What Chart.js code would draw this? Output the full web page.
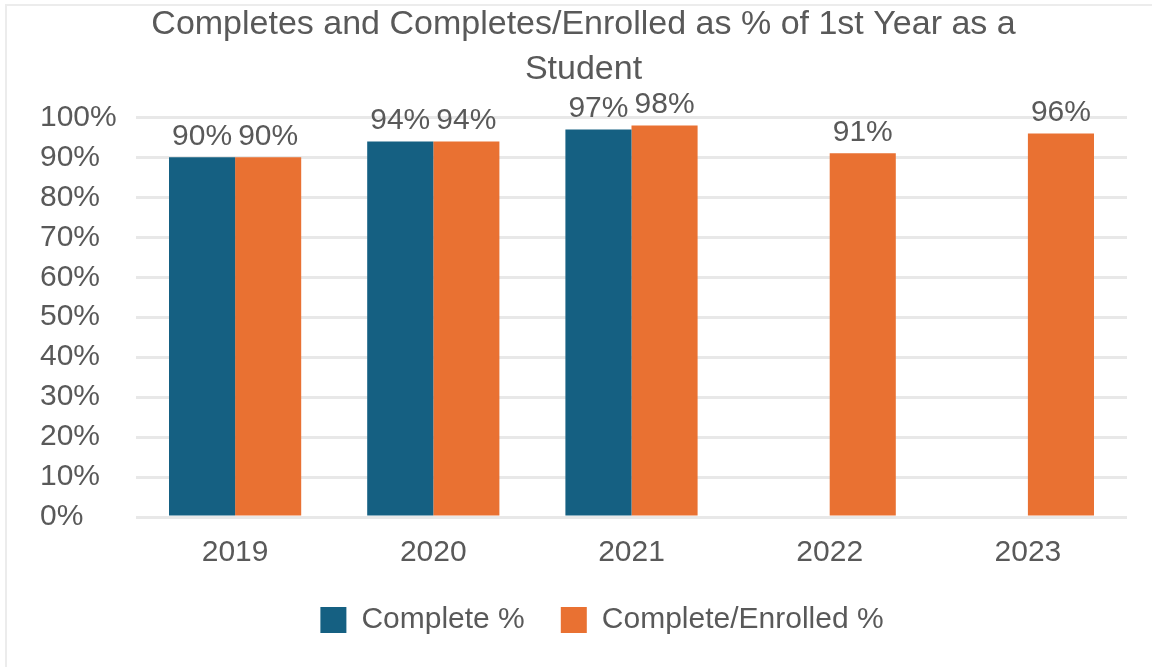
<!DOCTYPE html>
<html>
<head>
<meta charset="utf-8">
<script src="https://cdn.jsdelivr.net/npm/chart.js@4.4.1/dist/chart.umd.min.js"></script>
<style>
  html, body { margin: 0; padding: 0; background: #fff; }
  #wrap { position: relative; width: 1152px; height: 667px; }
  #frame {
    position: absolute; left: 5px; top: 4px; right: 0; bottom: 0;
    border-left: 2px solid #ececec; border-top: 2px solid #ececec;
    pointer-events: none;
  }
</style>
</head>
<body>
<div id="wrap">
  <canvas id="chart"></canvas>
  <div id="frame"></div>
</div>
<script>
// chart data
const years = ['2019', '2020', '2021', '2022', '2023'];
const completePct = [90, 94, 97, null, null];
const completeEnrolledPct = [90, 94, 98, 91, 96];
const titleLines = ['Completes and Completes/Enrolled as % of 1st Year as a', 'Student'];

const FONT = "'Liberation Sans', Arial, sans-serif";
const TEXT = '#595959';

// value labels above each bar
const barLabels = {
    id: 'barLabels',
    afterDatasetsDraw(chart) {
        const ctx = chart.ctx;
        ctx.save();
        ctx.font = '30px ' + FONT;
        ctx.fillStyle = TEXT;
        ctx.textAlign = 'center';
        ctx.textBaseline = 'bottom';
        chart.data.datasets.forEach((ds, i) => {
            chart.getDatasetMeta(i).data.forEach((bar, j) => {
                const v = ds.data[j];
                if (v === null || v === undefined) return;
                ctx.fillText(v + '%', bar.x, bar.y - 6);
            });
        });
        ctx.restore();
    }
};

// legend sits a bit right of the canvas centre in the original
const legendShift = {
    id: 'legendShift',
    afterLayout(chart) {
        chart.legend.left += 37;
    }
};

Chart.defaults.font.family = FONT;
Chart.defaults.color = TEXT;

new Chart(document.getElementById('chart'), {
    type: 'bar',
    data: {
        labels: years,
        datasets: [{
            label: 'Complete %',
            data: completePct,
            backgroundColor: '#156082'
        }, {
            label: 'Complete/Enrolled %',
            data: completeEnrolledPct,
            backgroundColor: '#e97132'
        }]
    },
    options: {
        responsive: true,
        maintainAspectRatio: false,
        animation: false,
        categoryPercentage: 0.667,
        barPercentage: 1.0,
        layout: { padding: { left: 40, right: 25, top: 0, bottom: 22 } },
        plugins: {
            title: {
                display: true,
                text: titleLines,
                color: TEXT,
                font: { size: 34, weight: 'normal', lineHeight: 1.3 },
                padding: { top: 3, bottom: 26 }
            },
            legend: {
                position: 'bottom',
                labels: {
                    color: TEXT,
                    font: { size: 30 },
                    boxWidth: 26,
                    boxHeight: 26,
                    padding: 36
                }
            },
            tooltip: { enabled: false }
        },
        scales: {
            x: {
                grid: { display: false },
                border: { display: false },
                ticks: { font: { size: 30 }, color: TEXT, padding: 10 },
                afterFit(scale) { scale.height = 52; }
            },
            y: {
                min: 0,
                max: 100,
                ticks: {
                    stepSize: 10,
                    font: { size: 30 },
                    color: TEXT,
                    crossAlign: 'far',
                    callback: v => v + '%'
                },
                grid: { color: '#e8e8e8', lineWidth: 3, drawTicks: false },
                border: { display: false },
                afterFit(scale) { scale.width = 96; }
            }
        }
    },
    plugins: [barLabels, legendShift]
});
</script>
</body>
</html>
